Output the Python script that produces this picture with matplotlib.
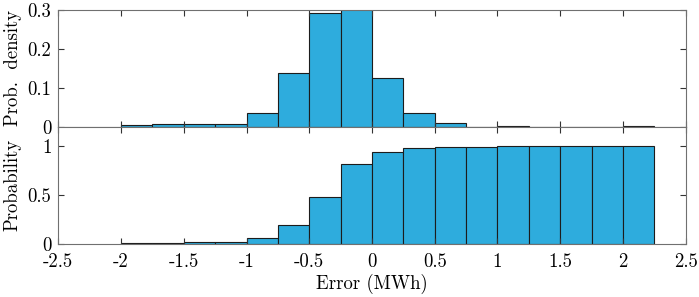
import numpy as np
import matplotlib
matplotlib.use("Agg")
from matplotlib import pyplot as plt

# histogram bins (MWh)
bin_edges = [-2.0, -1.75, -1.5, -1.25, -1.0, -0.75, -0.5, -0.25, 0.0,
             0.25, 0.5, 0.75, 1.0, 1.25, 1.5, 1.75, 2.0, 2.25]
density = [0.0035, 0.006, 0.006, 0.006, 0.034, 0.137, 0.291, 0.335, 0.126,
           0.034, 0.010, 0.0, 0.003, 0.0, 0.0, 0.0, 0.003]
cumulative = [0.0035, 0.0095, 0.0155, 0.0215, 0.055, 0.19, 0.48, 0.818, 0.945,
              0.98, 0.99, 0.995, 0.997, 0.997, 0.997, 0.997, 1.0]

xticks = [-2.5, -2, -1.5, -1, -0.5, 0, 0.5, 1, 1.5, 2, 2.5]
xticklabels = ["-2.5", "-2", "-1.5", "-1", "-0.5", "0", "0.5", "1", "1.5", "2", "2.5"]

plt.rcParams["font.family"] = "serif"
plt.rcParams["font.serif"] = ["cmr10", "DejaVu Serif"]
plt.rcParams["axes.formatter.use_mathtext"] = True

face = "#2EACDD"
edge = "#1c1c1c"
spine_col = "#707070"
fs = 13.5

fig = plt.figure(figsize=(6.99, 2.97), dpi=100)
ax1 = fig.add_axes([0.0834, 0.5734, 0.8976, 0.3939])
ax2 = fig.add_axes([0.0834, 0.1795, 0.8976, 0.3939])

left = np.array(bin_edges[:-1])
width = np.diff(bin_edges)

ax1.bar(left, density, width=width, align="edge", color=face,
        edgecolor=edge, linewidth=0.8)
ax2.bar(left, cumulative, width=width, align="edge", color=face,
        edgecolor=edge, linewidth=0.8)

for ax in (ax1, ax2):
    ax.set_xlim(-2.5, 2.5)
    ax.set_xticks(xticks)
    ax.tick_params(direction="in", top=True, right=True, length=4,
                   width=0.8, color="#333333", labelsize=fs)
    ax.tick_params(axis="x", pad=7)
    ax.tick_params(axis="y", pad=5)
    for s in ax.spines.values():
        s.set_color(spine_col)
        s.set_linewidth(0.8)

ax1.set_xticklabels([])
ax1.set_ylim(0, 0.3)
ax1.set_yticks([0, 0.1, 0.2, 0.3])
ax1.set_yticklabels(["0", "0.1", "0.2", "0.3"])
ax1.set_ylabel("Prob.  density", fontsize=fs, labelpad=4)

ax2.set_xticklabels(xticklabels)
ax2.set_ylim(0, 1.2)
ax2.set_yticks([0, 0.5, 1])
ax2.set_yticklabels(["0", "0.5", "1"])
ax2.set_ylabel("Probability", fontsize=fs, labelpad=4)
ax2.set_xlabel("Error (MWh)", fontsize=fs, labelpad=2)

fig.savefig("out.png", dpi=100)
